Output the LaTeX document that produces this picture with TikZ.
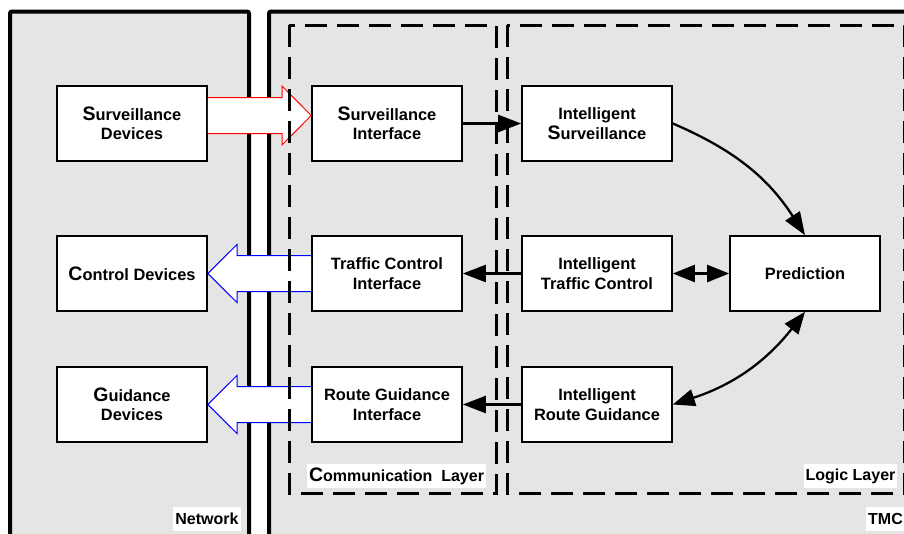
\documentclass[tikz,border=0pt]{standalone}
\usepackage{fontspec}
\setmainfont{Liberation Sans}
\usetikzlibrary{arrows.meta,calc}
\definecolor{panelgray}{HTML}{E5E5E5}
\newcommand{\bigfirst}[1]{{\fontsize{19.5pt}{19.5pt}\selectfont #1}}
\begin{document}
\begin{tikzpicture}[x=1pt,y=1pt,
  panel/.style={line width=4pt, fill=panelgray, rounded corners=2pt},
  layer/.style={line width=3pt, dash pattern=on 22pt off 10pt},
  box/.style={draw, line width=1.6pt, fill=white, minimum width=150pt,
    minimum height=75pt, inner sep=0pt, align=center,
    font=\fontsize{16.4pt}{19.5pt}\selectfont\bfseries},
  lbl/.style={fill=white, inner xsep=2pt, inner ysep=0pt, minimum height=24pt,
    font=\fontsize{16pt}{19pt}\selectfont\bfseries},
  conn/.style={line width=2.3pt, -{Triangle[length=23pt,width=17pt]}},
  bconn/.style={line width=2.3pt,
    {Triangle[length=22pt,width=17pt]}-{Triangle[length=22pt,width=17pt]}},
  fatred/.style={draw=red, line width=1pt, fill=white},
  fatblue/.style={draw=blue, line width=1pt, fill=white}]
\useasboundingbox (0,0) rectangle (904,-533);
\clip (0,0) rectangle (904,-533);

% panels
\draw[panel] (10,-11.5) rectangle (249,-560);
\draw[panel] (269,-11.5) rectangle (940,-560);

% boxes
\node[box] (sd)  at (132,-123.5) {\bigfirst{S}urveillance\\Devices};
\node[box] (cd)  at (132,-273.5) {\bigfirst{C}ontrol Devices};
\node[box] (gd)  at (132,-404.5) {\bigfirst{G}uidance\\Devices};
\node[box] (si)  at (387,-123.5) {\bigfirst{S}urveillance\\Interface};
\node[box] (tci) at (387,-273.5) {Traffic Control\\Interface};
\node[box] (rgi) at (387,-404.5) {Route Guidance\\Interface};
\node[box] (isu) at (597,-123.5) {Intelligent\\\bigfirst{S}urveillance};
\node[box] (itc) at (597,-273.5) {Intelligent\\Traffic Control};
\node[box] (irg) at (597,-404.5) {Intelligent\\Route Guidance};
\node[box] (pred) at (805,-273.5) {Prediction};

% fat arrows
\filldraw[fatred] (sd.east |- 0,-97.5) -- (282,-97.5) -- (282,-86)
  -- (si.west |- 0,-115.5) -- (282,-145) -- (282,-133.5) -- (sd.east |- 0,-133.5);
\filldraw[fatblue] (tci.west |- 0,-255.5) -- (237,-255.5) -- (237,-244.5)
  -- (cd.east) -- (237,-302.5) -- (237,-291.5) -- (tci.west |- 0,-291.5);
\filldraw[fatblue] (rgi.west |- 0,-386.5) -- (237,-386.5) -- (237,-375.5)
  -- (gd.east) -- (237,-433.5) -- (237,-422.5) -- (rgi.west |- 0,-422.5);

% layers
\draw[layer] (289,-25) rectangle (496,-493);
\draw[layer] (507,-25) rectangle (904.5,-493);

% labels
\node[lbl] (lcom) at (396.5,-476) {\bigfirst{C}ommunication\ \ Layer};
\node[lbl] (llog) at (850.5,-476) {Logic Layer};
\node[lbl] (lnet) at (207,-518.5) {Network};
\node[lbl, anchor=west] (ltmc) at (866,-518.5) {TMC};

% connectors
\draw[conn] (si.east) -- (isu.west);
\draw[conn] (itc.west) -- (tci.east);
\draw[conn] (irg.west) -- (rgi.east);
\draw[conn] (isu.east) to[bend left=17] (pred.north);
\draw[bconn] (itc.east) -- (pred.west);
\draw[bconn] (pred.south) to[bend left=17] (irg.east);
\end{tikzpicture}
\end{document}
